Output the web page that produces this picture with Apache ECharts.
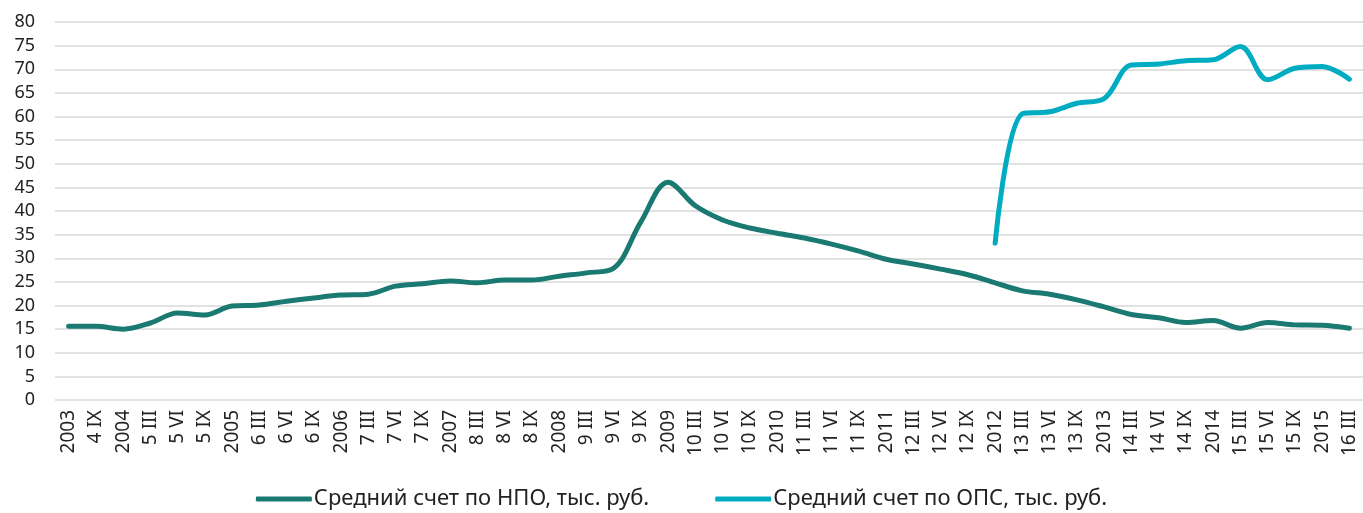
<!DOCTYPE html>
<html lang="ru">
<head>
    <meta charset="UTF-8">
    <title>Средний счет</title>
    <script src="https://cdn.jsdelivr.net/npm/echarts@6/dist/echarts.min.js"></script>
    <style>
        * { margin: 0; padding: 0 }
        html, body { width: 100%; height: 100%; background: #fff; }
        #main { width: 1363px; height: 513px; }
    </style>
</head>
<body>
<div id="main"></div>
<script>
    var categories = ['2003', '4 IX', '2004', '5 III', '5 VI', '5 IX', '2005', '6 III', '6 VI', '6 IX',
        '2006', '7 III', '7 VI', '7 IX', '2007', '8 III', '8 VI', '8 IX', '2008', '9 III', '9 VI', '9 IX',
        '2009', '10 III', '10 VI', '10 IX', '2010', '11 III', '11 VI', '11 IX', '2011', '12 III', '12 VI',
        '12 IX', '2012', '13 III', '13 VI', '13 IX', '2013', '14 III', '14 VI', '14 IX', '2014', '15 III',
        '15 VI', '15 IX', '2015', '16 III'];

    // средний счет по НПО
    var npo = [15.6, 15.6, 15.0, 16.3, 18.4, 18.0, 19.9, 20.1, 20.9, 21.6,
        22.2, 22.4, 24.1, 24.6, 25.2, 24.8, 25.4, 25.4, 26.2, 26.9, 27.9, 37.7,
        46.1, 41.1, 38.1, 36.4, 35.3, 34.3, 33.0, 31.5, 29.8, 28.8, 27.7,
        26.5, 24.8, 23.1, 22.4, 21.2, 19.7, 18.1, 17.4, 16.4, 16.8, 15.2,
        16.4, 15.9, 15.8, 15.2];

    // средний счет по ОПС (с 2012)
    var ops = ['-', '-', '-', '-', '-', '-', '-', '-', '-', '-',
        '-', '-', '-', '-', '-', '-', '-', '-', '-', '-', '-', '-',
        '-', '-', '-', '-', '-', '-', '-', '-', '-', '-', '-',
        '-', 33.2, 60.6, 61.0, 62.8, 63.8, 70.9, 71.1, 71.8, 72.0, 74.8,
        67.8, 70.2, 70.6, 67.9];

    var seriesNames = ['Средний счет по НПО, тыс. руб.', 'Средний счет по ОПС, тыс. руб.'];

    var myChart = echarts.init(document.getElementById('main'));
    var font = '"Noto Sans", sans-serif';

    var option = {
        animation: false,
        color: ['#1a7a72', '#00acc1'],
        grid: { left: 55, right: 0, top: 22, bottom: 113, containLabel: false },
        legend: {
            bottom: -2,
            left: 'center',
            itemWidth: 56,
            itemHeight: 5,
            itemGap: 66,
            icon: 'roundRect',
            textStyle: { fontFamily: font, fontSize: 22, color: '#222', padding: [0, 0, 0, -3] },
            data: seriesNames
        },
        xAxis: {
            type: 'category',
            data: categories,
            boundaryGap: true,
            axisLine: { show: false },
            axisTick: { show: false },
            axisLabel: {
                interval: 0,
                rotate: 90,
                margin: 10,
                fontFamily: font,
                fontSize: 19,
                color: '#222'
            }
        },
        yAxis: {
            type: 'value',
            min: 0,
            max: 80,
            interval: 5,
            axisLine: { show: false },
            axisTick: { show: false },
            axisLabel: { margin: 20, fontFamily: font, fontSize: 18, color: '#222' },
            splitLine: { lineStyle: { color: '#d9d9d9', width: 1.5 } }
        },
        series: [
            {
                name: seriesNames[0],
                type: 'line',
                data: npo,
                smooth: 0.35,
                showSymbol: false,
                lineStyle: { width: 5, cap: 'round', join: 'round' }
            },
            {
                name: seriesNames[1],
                type: 'line',
                data: ops,
                smooth: 0.35,
                showSymbol: false,
                lineStyle: { width: 5, cap: 'round', join: 'round' }
            }
        ]
    };

    myChart.setOption(option);
</script>
</body>
</html>
